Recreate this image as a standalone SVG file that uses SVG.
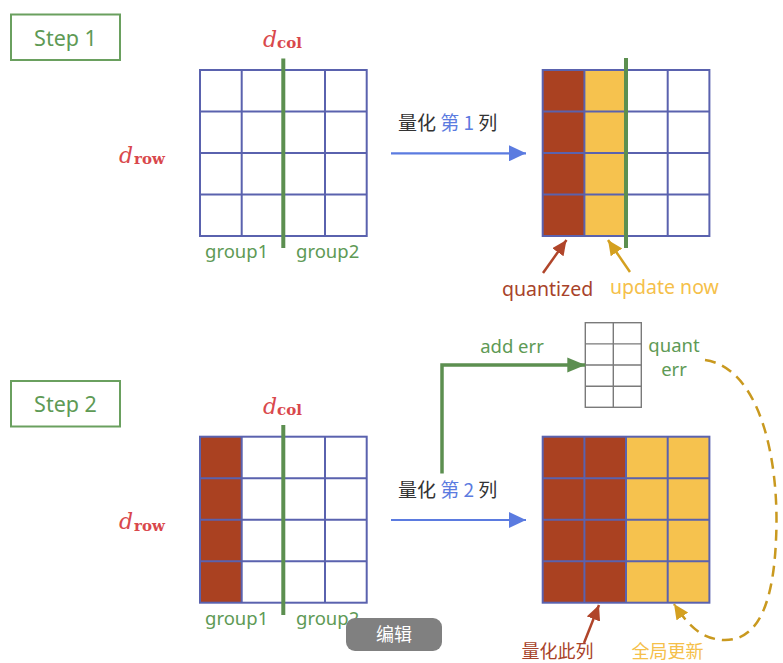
<svg xmlns="http://www.w3.org/2000/svg" xmlns:xlink="http://www.w3.org/1999/xlink" width="783" height="663" viewBox="0 0 783 663">
<style>
.sans{font-family:"Noto Sans","Open Sans","Noto Sans CJK SC",sans-serif}
.cjk{font-family:"Noto Sans CJK SC","Noto Sans",sans-serif}
.math{font-family:"DejaVu Serif","Liberation Serif",serif;fill:#D9484C}
.gl{stroke:#5A62AE;stroke-width:2;fill:none}
.sl{stroke:#7a7a7a;stroke-width:1.4;fill:none}
.green{fill:#5E9A55}
.red{fill:#AA4121}
.yel{fill:#F6C24E}
.div{stroke:#5C8F50;stroke-width:4}
.stepbox{fill:#fff;stroke:#6AA05F;stroke-width:2}
</style>
<defs>
<g id="grid">
<rect x="0" y="0" width="166.7" height="166" class="gl"/>
<path class="gl" d="M41.7 0V166M83.3 0V166M125 0V166M0 41.5H166.7M0 83H166.7M0 124.5H166.7"/>
</g>
<marker id="mBlue" markerUnits="userSpaceOnUse" markerWidth="20" markerHeight="16" refX="17" refY="8" orient="auto"><path d="M0 0L17 8L0 16Z" fill="#5B7BE0"/></marker>
<marker id="mGreen" markerUnits="userSpaceOnUse" markerWidth="20" markerHeight="16" refX="18" refY="8" orient="auto"><path d="M0 0.5L18 8L0 15.5Z" fill="#5C8F50"/></marker>
<marker id="mRed" markerUnits="userSpaceOnUse" markerWidth="18" markerHeight="16" refX="15" refY="7" orient="auto"><path d="M0 0L15 7L0 14Z" fill="#B0452A"/></marker>
<marker id="mGold" markerUnits="userSpaceOnUse" markerWidth="18" markerHeight="16" refX="15" refY="7" orient="auto"><path d="M0 0L15 7L0 14Z" fill="#D4A020"/></marker>
</defs>
<rect width="783" height="663" fill="#fff"/>

<g id="step1-label">
<rect class="stepbox" x="11" y="14.5" width="109" height="45.5"/>
<text class="sans" x="65.5" y="45.5" font-size="21.5" text-anchor="middle" fill="#5E9A55">Step 1</text>
</g>

<g id="step1-left-matrix">
<use xlink:href="#grid" x="200" y="70"/>
<line class="div" x1="283.3" y1="58.5" x2="283.3" y2="248"/>
<text class="math" x="263" y="47" font-size="22" font-style="italic">d</text>
<text class="math" x="277" y="48" font-size="15" font-weight="bold">col</text>
<text class="math" x="119" y="162.5" font-size="22" font-style="italic">d</text>
<text class="math" x="134" y="164" font-size="15" font-weight="bold">row</text>
<text class="sans green" x="205" y="258" font-size="18.5">group1</text>
<text class="sans green" x="296" y="258" font-size="18.5">group2</text>
</g>

<g id="step1-right-matrix">
<rect class="red" x="542.7" y="70" width="41.6" height="166"/>
<rect class="yel" x="584.3" y="70" width="41.7" height="166"/>
<use xlink:href="#grid" x="542.7" y="70"/>
<line class="div" x1="626" y1="58" x2="626" y2="248"/>
<text class="sans" x="502" y="296" font-size="19.5" fill="#A8432A">quantized</text>
<text class="sans" x="610" y="294" font-size="19.5" fill="#F5C04A">update now</text>
</g>

<g id="step2-label">
<rect class="stepbox" x="11" y="381" width="109" height="45.5"/>
<text class="sans" x="65.5" y="412" font-size="21.5" text-anchor="middle" fill="#5E9A55">Step 2</text>
</g>

<g id="step2-left-matrix">
<rect class="red" x="200" y="436.7" width="41.7" height="166"/>
<use xlink:href="#grid" x="200" y="436.7"/>
<line class="div" x1="283.3" y1="425" x2="283.3" y2="615"/>
<text class="math" x="263" y="413.7" font-size="22" font-style="italic">d</text>
<text class="math" x="277" y="414.7" font-size="15" font-weight="bold">col</text>
<text class="math" x="119" y="529" font-size="22" font-style="italic">d</text>
<text class="math" x="134" y="530.5" font-size="15" font-weight="bold">row</text>
<text class="sans green" x="205" y="625" font-size="18.5">group1</text>
<text class="sans green" x="296" y="625" font-size="18.5">group2</text>
</g>

<g id="step2-right-matrix">
<rect class="red" x="542.7" y="436.7" width="83.3" height="166"/>
<rect class="yel" x="626" y="436.7" width="83.3" height="166"/>
<use xlink:href="#grid" x="542.7" y="436.7"/>
<text class="cjk" x="521.5" y="658" font-size="18" fill="#A8432A">量化此列</text>
<text class="cjk" x="631.5" y="658" font-size="18" fill="#F5C04A">全局更新</text>
</g>

<g id="quant-err">
<rect class="sl" x="585.3" y="322.7" width="56" height="84.6"/>
<path class="sl" d="M613.3 322.7V407.3M585.3 343.9H641.3M585.3 365H641.3M585.3 386.2H641.3"/>
<text class="sans" x="674" y="352" font-size="18.5" text-anchor="middle" fill="#5E9A55">quant</text>
<text class="sans" x="674" y="376" font-size="18.5" text-anchor="middle" fill="#5E9A55">err</text>
</g>

<g id="connectors">
<line x1="391" y1="153.3" x2="526" y2="153.3" stroke="#5B7BE0" stroke-width="2.2" marker-end="url(#mBlue)"/>
<text class="cjk" x="398" y="130" font-size="19" fill="#333">量化 <tspan fill="#5B7BE0">第 1</tspan> 列</text>
<line x1="543" y1="273" x2="566.5" y2="240" stroke="#B0452A" stroke-width="2.5" marker-end="url(#mRed)"/>
<line x1="630" y1="272" x2="608" y2="240" stroke="#D4A020" stroke-width="2.5" marker-end="url(#mGold)"/>

<line x1="391" y1="520" x2="526" y2="520" stroke="#5B7BE0" stroke-width="2.2" marker-end="url(#mBlue)"/>
<text class="cjk" x="398" y="496.5" font-size="19" fill="#333">量化 <tspan fill="#5B7BE0">第 2</tspan> 列</text>
<path d="M442 473.5V365H585.3" fill="none" stroke="#5C8F50" stroke-width="3.5" marker-end="url(#mGreen)"/>
<text class="sans green" x="512" y="353" font-size="18.5" text-anchor="middle">add err</text>
<line x1="584" y1="643" x2="599" y2="605" stroke="#B0452A" stroke-width="2.5" marker-end="url(#mRed)"/>
<path d="M705 360C760 368 780 460 776 540C773 610 755 642 722 640C702 638 690 628 674 604" fill="none" stroke="#C9991F" stroke-width="2.5" stroke-dasharray="11 7" marker-end="url(#mGold)"/>
</g>

<g id="edit-button">
<rect x="346" y="618" width="96" height="33" rx="9" fill="#808080"/>
<text class="cjk" x="394" y="641" font-size="18" text-anchor="middle" fill="#fff">编辑</text>
</g>
</svg>
